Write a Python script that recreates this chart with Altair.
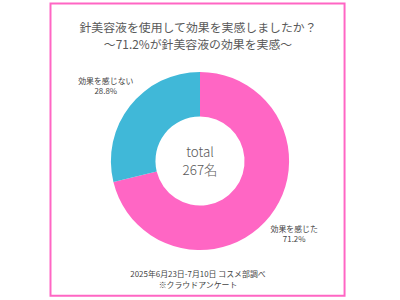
import altair as alt
import pandas as pd

categories = ["効果を感じた", "効果を感じない"]
percents = [71.2, 28.8]
pct_labels = ["71.2%", "28.8%"]
colors = ["#FF66C4", "#40B8D8"]
title_lines = ["針美容液を使用して効果を実感しましたか？", "〜71.2%が針美容液の効果を実感〜"]
center_lines = ["total", "267名"]
footer_lines = ["2025年6月23日-7月10日 コスメ部調べ", "※クラウドアンケート"]

FONT = "Noto Sans CJK JP"
GRAY = "#595959"

df = pd.DataFrame({
    "category": categories,
    "value": percents,
    "pct": pct_labels,
    "order": [0, 1],
})

theta = alt.Theta("value:Q", stack=True)
color = alt.Color("category:N", scale=alt.Scale(domain=categories, range=colors), legend=None)
order = alt.Order("order:Q")

base = alt.Chart(df)

arcs = base.mark_arc(innerRadius=45, outerRadius=90).encode(
    theta=theta, color=color, order=order
)

label_style = dict(radius=121, font=FONT, fontSize=8, color="#444444", align="center", baseline="middle")
labels_name = base.mark_text(dy=-5.5, **label_style).encode(theta=theta, order=order, text="category:N")
labels_pct = base.mark_text(dy=5.5, **label_style).encode(theta=theta, order=order, text="pct:N")

center_style = dict(font=FONT, fontSize=13.5, color=GRAY, align="center", baseline="middle", fontWeight=300)
center1 = alt.Chart(pd.DataFrame({"t": [center_lines[0]]})).mark_text(dy=-8, **center_style).encode(text="t:N")
center2 = alt.Chart(pd.DataFrame({"t": [center_lines[1]]})).mark_text(dy=10, **center_style).encode(text="t:N")

title_style = dict(font=FONT, fontSize=12, color=GRAY, align="center", baseline="middle")
title1 = alt.Chart(pd.DataFrame({"t": [title_lines[0]]})).mark_text(**title_style).encode(
    text="t:N", x=alt.value(200), y=alt.value(27))
title2 = alt.Chart(pd.DataFrame({"t": [title_lines[1]]})).mark_text(**title_style).encode(
    text="t:N", x=alt.value(200), y=alt.value(44))

footer_style = dict(font=FONT, fontSize=8, color="#444444", align="center", baseline="middle")
footer1 = alt.Chart(pd.DataFrame({"t": [footer_lines[0]]})).mark_text(**footer_style).encode(
    text="t:N", x=alt.value(200), y=alt.value(276))
footer2 = alt.Chart(pd.DataFrame({"t": [footer_lines[1]]})).mark_text(**footer_style).encode(
    text="t:N", x=alt.value(200), y=alt.value(287))

frame = alt.Chart(pd.DataFrame({"a": [0]})).mark_rect(
    fill=None, stroke="#FF66C4", strokeWidth=2
).encode(x=alt.value(51), x2=alt.value(348), y=alt.value(2), y2=alt.value(297))

chart = alt.layer(
    arcs, labels_name, labels_pct, center1, center2, title1, title2, footer1, footer2, frame
).properties(
    width=404, height=322, autosize=alt.AutoSizeParams(type="none"), padding=0, background="white"
).configure_view(stroke=None)

chart.save("out.html", embed_options={"renderer": "svg", "actions": False})
